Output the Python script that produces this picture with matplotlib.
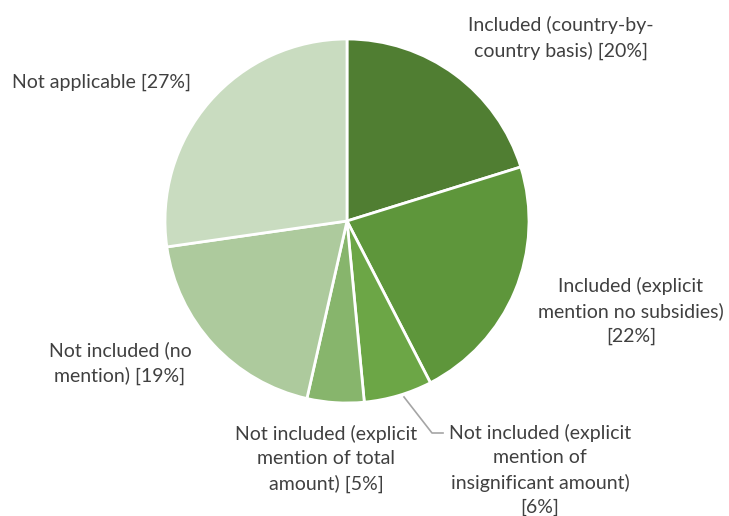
import matplotlib
matplotlib.use("Agg")
import matplotlib.pyplot as plt

# share of entries per category, clockwise from 12 o'clock
categories = [
    "Included (country-by-\ncountry basis)",
    "Included (explicit\nmention no subsidies)",
    "Not included (explicit\nmention of\ninsignificant amount)",
    "Not included (explicit\nmention of total\namount)",
    "Not included (no\nmention)",
    "Not applicable",
]
shares = [20, 22, 6, 5, 19, 27]
colors = ["#507E32", "#5E963B", "#6CA646", "#87B56C", "#ADCA9D", "#C9DCC0"]

plt.rcParams['font.family'] = ['Lato', 'DejaVu Sans']

W, H = 729, 516
cx, cy, r = 347, 221, 182
fig = plt.figure(figsize=(W / 100, H / 100), dpi=100)
ax = fig.add_axes([(cx - r) / W, (H - cy - r) / H, 2 * r / W, 2 * r / H])

ax.pie(shares, colors=colors, startangle=90, counterclock=False, radius=1,
       wedgeprops=dict(edgecolor="white", linewidth=2))
ax.set_xlim(-1, 1)
ax.set_ylim(-1, 1)
ax.set_aspect("equal")
ax.axis("off")


def px(x, y):
    # pixel position -> data coordinates of the pie axes
    return (x - cx) / r, (cy - y) / r


# label anchors (pixel centres of each text block)
anchors = [(561, 38), (631, 311), (540, 470), (326, 459), (120, 363), (102, 82)]
for name, val, (x, y) in zip(categories, shares, anchors):
    if name.endswith(")") and "\n" in name and val in (22, 6):
        text = f"{name}\n[{val}%]"
    else:
        text = f"{name} [{val}%]"
    tx, ty = px(x, y)
    ax.text(tx, ty, text, ha="center", va="center", fontsize=14,
            color="#404040", linespacing=1.5, clip_on=False)

# leader line for the small slice
lx, ly = zip(px(404, 397), px(432, 433), px(443, 433))
ax.plot(lx, ly, color="#A5A5A5", lw=1.2, clip_on=False)

fig.savefig("out.png", dpi=100)
